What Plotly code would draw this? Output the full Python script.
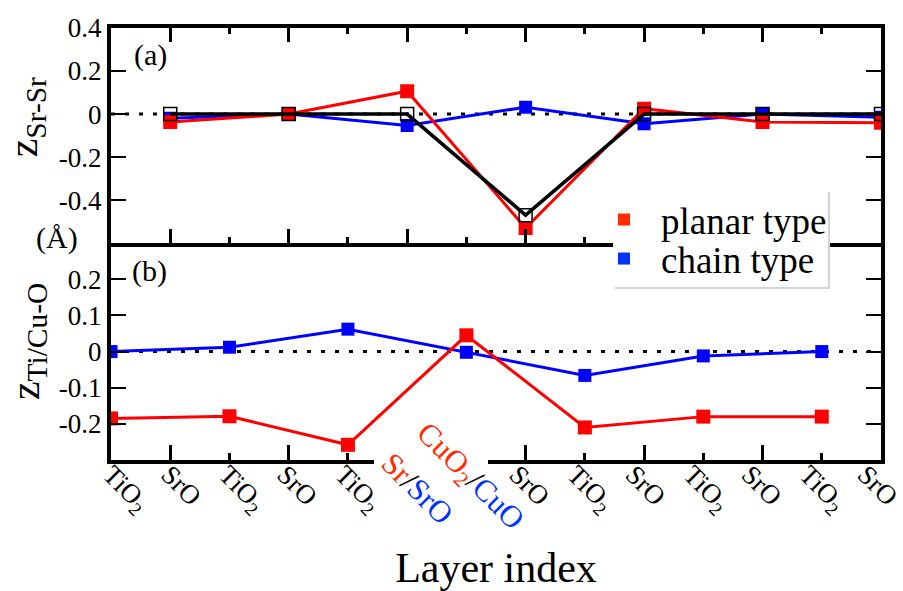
import plotly.graph_objects as go

# Layer positions along the stack (index 0..13)
layer_labels = ["TiO<sub>2</sub>", "SrO", "TiO<sub>2</sub>", "SrO", "TiO<sub>2</sub>",
                "", "", "SrO", "TiO<sub>2</sub>", "SrO", "TiO<sub>2</sub>", "SrO",
                "TiO<sub>2</sub>", "SrO"]
layer_idx = list(range(14))

# (a) Sr-Sr buckling, on the SrO-type layers
idx_a = [1, 3, 5, 7, 9, 11, 13]
planar_a = [-0.037, 0.0, 0.106, -0.53, 0.025, -0.037, -0.04]
chain_a = [-0.02, 0.0, -0.053, 0.032, -0.045, 0.0, -0.015]
ref_a = [0.0, 0.0, 0.0, -0.47, 0.0, 0.0, 0.0]

# (b) Ti/Cu-O buckling, on the TiO2-type layers
idx_b = [0, 2, 4, 6, 8, 10, 12]
planar_b = [-0.185, -0.179, -0.258, 0.045, -0.21, -0.18, -0.18]
chain_b = [0.0, 0.012, 0.062, -0.002, -0.066, -0.012, 0.0]

yticks_a = [-0.4, -0.2, 0, 0.2, 0.4]
yticks_a_txt = ["-0.4", "-0.2", "0", "0.2", "0.4"]
yticks_b = [-0.2, -0.1, 0, 0.1, 0.2]
yticks_b_txt = ["-0.2", "-0.1", "0", "0.1", "0.2"]

RED = "#ff0000"
BLUE = "#0000ff"
LRED = "#ff2a00"
LBLUE = "#0033ff"
FONT = "Liberation Serif"

fig = go.Figure()

# top panel
fig.add_trace(go.Scatter(x=idx_a, y=chain_a, mode="lines+markers", xaxis="x2", yaxis="y2",
                         line=dict(color=BLUE, width=3),
                         marker=dict(symbol="square", size=13, color=BLUE), showlegend=False))
fig.add_trace(go.Scatter(x=idx_a, y=planar_a, mode="lines+markers", xaxis="x2", yaxis="y2",
                         line=dict(color=RED, width=3),
                         marker=dict(symbol="square", size=14, color=RED), showlegend=False))
fig.add_trace(go.Scatter(x=idx_a, y=ref_a, mode="lines+markers", xaxis="x2", yaxis="y2",
                         line=dict(color="black", width=3.5),
                         marker=dict(symbol="square-open", size=13, color="black",
                                     line=dict(width=1.5, color="black")),
                         showlegend=False))

# bottom panel (drawn on the tick-carrying overlay axis)
fig.add_trace(go.Scatter(x=idx_b, y=chain_b, mode="lines+markers", xaxis="x3", yaxis="y",
                         line=dict(color=BLUE, width=3),
                         marker=dict(symbol="square", size=13, color=BLUE), showlegend=False))
fig.add_trace(go.Scatter(x=idx_b, y=planar_b, mode="lines+markers", xaxis="x3", yaxis="y",
                         line=dict(color=RED, width=3),
                         marker=dict(symbol="square", size=14, color=RED), showlegend=False))

# legend entries (marker only), one legend box per row
fig.add_trace(go.Scatter(x=[None], y=[None], mode="markers", name="planar type",
                         xaxis="x2", yaxis="y2", legend="legend",
                         marker=dict(symbol="square", size=17, color=LRED)))
fig.add_trace(go.Scatter(x=[None], y=[None], mode="markers", name="chain type",
                         xaxis="x2", yaxis="y2", legend="legend2",
                         marker=dict(symbol="square", size=17, color=LBLUE)))

odd = [i for i in layer_idx if i % 2 == 1]
even = [i for i in layer_idx if i % 2 == 0]
lab_idx = [i for i, t in zip(layer_idx, layer_labels) if t]
lab_txt = [t for t in layer_labels if t]
# rotated labels drift slightly left of their layer towards the right end
lab_pos = [i * 0.98 for i in lab_idx]

frame = dict(showline=True, linewidth=4, linecolor="black", showgrid=False, zeroline=False,
             automargin=False)
tickfont = dict(family=FONT, size=27, color="black")

leg_common = dict(xanchor="left", yanchor="middle", bgcolor="rgba(0,0,0,0)", borderwidth=0,
                  font=dict(family=FONT, size=37, color="black"),
                  itemsizing="constant", itemwidth=64)

fig.update_layout(
    width=903, height=591,
    margin=dict(l=111, r=22, t=28, b=131),
    paper_bgcolor="white", plot_bgcolor="white",
    font=dict(family=FONT, color="black"),
    xaxis=dict(domain=[0, 1], anchor="y", range=[0, 13], mirror=False, ticks="",
               tickmode="array", tickvals=lab_pos, ticktext=lab_txt, tickangle=45,
               tickfont=tickfont, ticklabeloverflow="allow", ticklabelstandoff=-16,
               title=dict(text="Layer index", font=dict(family=FONT, size=42), standoff=40),
               **frame),
    xaxis3=dict(overlaying="x", anchor="y", range=[0, 13], showline=False, showgrid=False,
                zeroline=False, showticklabels=False, ticks="inside", tickmode="array",
                tickvals=odd, ticklen=15, tickwidth=3, tickcolor="black", automargin=False,
                minor=dict(tickmode="array", tickvals=even, ticks="inside", ticklen=7,
                           tickwidth=3, tickcolor="black")),
    xaxis2=dict(domain=[0, 1], anchor="y2", range=[0, 13], mirror="ticks", ticks="inside",
                tickmode="array", tickvals=odd, ticklen=14, tickwidth=3, tickcolor="black",
                showticklabels=False,
                minor=dict(tickmode="array", tickvals=even, ticks="inside", ticklen=6,
                           tickwidth=3, tickcolor="black"),
                **frame),
    yaxis=dict(domain=[0, 0.502], anchor="x", range=[-0.3, 0.3], mirror="ticks",
               ticks="inside", ticklen=15, tickwidth=2, tickcolor="black",
               tickmode="array", tickvals=yticks_b, ticktext=yticks_b_txt,
               tickfont=tickfont, **frame),
    yaxis2=dict(domain=[0.502, 1], anchor="x2", range=[-0.6, 0.4], mirror="ticks",
                ticks="inside", ticklen=15, tickwidth=2, tickcolor="black",
                tickmode="array", tickvals=yticks_a, ticktext=yticks_a_txt,
                tickfont=tickfont, **frame),
    legend=dict(x=0.6182, y=0.5556, **leg_common),
    legend2=dict(x=0.6182, y=0.4653, **leg_common),
    showlegend=True,
)

# dotted zero lines
for xr, yr in [("x domain", "y"), ("x2 domain", "y2")]:
    fig.add_shape(type="line", xref=xr, yref=yr, x0=0, x1=1, y0=0, y1=0, layer="below",
                  line=dict(color="black", width=3, dash="4px,10px"))

# legend panel: soft shadow and white box over the panel border
fig.add_shape(type="rect", xref="paper", yref="paper", x0=0.6545, x1=0.9338, y0=0.3958, y1=0.6204,
              layer="above", line=dict(width=0), fillcolor="#d4d4d4")
fig.add_shape(type="rect", xref="paper", yref="paper", x0=0.652, x1=0.931, y0=0.4005, y1=0.625,
              layer="above", line=dict(width=0), fillcolor="white")
# break in the bottom axis behind the interface labels
fig.add_shape(type="rect", xref="paper", yref="paper", x0=0.3416, x1=0.4896, y0=-0.0116, y1=0.037,
              layer="above", line=dict(width=0), fillcolor="white")

ann = []
# panel labels
ann.append(dict(text="(a)", xref="paper", yref="paper", x=0.051, y=0.9375,
                xanchor="center", yanchor="middle", showarrow=False,
                font=dict(family=FONT, size=30)))
ann.append(dict(text="(b)", xref="paper", yref="paper", x=0.05, y=0.4375,
                xanchor="center", yanchor="middle", showarrow=False,
                font=dict(family=FONT, size=30)))
# axis titles
ann.append(dict(text="z<sub>Sr-Sr</sub>", xref="paper", yref="paper", x=-0.11, y=0.794,
                xanchor="center", yanchor="middle", textangle=-90, showarrow=False,
                font=dict(family=FONT, size=42)))
ann.append(dict(text="z<sub>Ti/Cu-O</sub>", xref="paper", yref="paper", x=-0.108, y=0.275,
                xanchor="center", yanchor="middle", textangle=-90, showarrow=False,
                font=dict(family=FONT, size=42)))
ann.append(dict(text="(Å)", xref="paper", yref="paper", x=-0.07, y=0.514,
                xanchor="center", yanchor="middle", showarrow=False,
                font=dict(family=FONT, size=30)))
# interface layer labels
ann.append(dict(text='<span style="color:%s">Sr</span>/<span style="color:%s">SrO</span>' % (LRED, LBLUE),
                xref="x", yref="paper", x=5.17, y=-0.067, xanchor="center", yanchor="middle",
                textangle=45, showarrow=False, bgcolor="white",
                font=dict(family=FONT, size=31, color="black")))
ann.append(dict(text='<span style="color:%s">CuO<sub>2</sub></span>/<span style="color:%s">CuO</span>' % (LRED, LBLUE),
                xref="x", yref="paper", x=6.06, y=-0.041, xanchor="center", yanchor="middle",
                textangle=45, showarrow=False, bgcolor="white",
                font=dict(family=FONT, size=31, color="black")))
fig.update_layout(annotations=ann)

fig.write_html("out.html")
